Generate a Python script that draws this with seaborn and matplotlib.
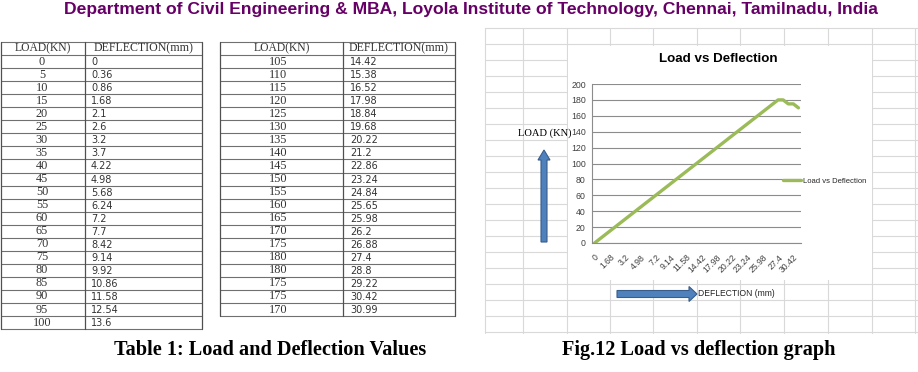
import numpy as np
import pandas as pd
import seaborn as sns
import matplotlib.pyplot as plt
from matplotlib import font_manager
from matplotlib.patches import Rectangle, FancyArrow

# Table values (load in kN, deflection in mm)
load_kn = [0, 5, 10, 15, 20, 25, 30, 35, 40, 45, 50, 55, 60, 65, 70, 75, 80, 85, 90, 95, 100,
           105, 110, 115, 120, 125, 130, 135, 140, 145, 150, 155, 160, 165, 170, 175, 180,
           180, 175, 175, 170]
deflection_mm = [0, 0.36, 0.86, 1.68, 2.1, 2.6, 3.2, 3.7, 4.22, 4.98, 5.68, 6.24, 7.2, 7.7,
                 8.42, 9.14, 9.92, 10.86, 11.58, 12.54, 13.6,
                 14.42, 15.38, 16.52, 17.98, 18.84, 19.68, 20.22, 21.2, 22.86, 23.24, 24.84,
                 25.65, 25.98, 26.2, 26.88, 27.4, 28.8, 29.22, 30.42, 30.99]
header = ["LOAD(KN)", "DEFLECTION(mm)"]
y_ticks = [0, 20, 40, 60, 80, 100, 120, 140, 160, 180, 200]

page_title = ("Department of Civil Engineering & MBA, Loyola Institute of Technology, "
              "Chennai, Tamilnadu, India")
chart_title = "Load vs Deflection"
series_name = "Load vs Deflection"
table_caption = "Table 1: Load and Deflection Values"
fig_caption = "Fig.12 Load vs deflection graph"

df = pd.DataFrame({"pos": np.arange(len(load_kn)), "load": load_kn,
                   "defl": [f"{v:g}" for v in deflection_mm]})

sns.set_style("white")
names = {f.name for f in font_manager.fontManager.ttflist}
narrow = "Liberation Sans Narrow" if "Liberation Sans Narrow" in names else "Liberation Sans"
serif = "Liberation Serif"

W, H = 918, 372
fig = plt.figure(figsize=(W / 100, H / 100), dpi=100)


def box(x0, y0, x1, y1):
    return [x0 / W, 1 - y1 / H, (x1 - x0) / W, (y1 - y0) / H]


def fit(t, width):
    w = t.get_window_extent(fig.canvas.get_renderer()).width
    t.set_fontsize(t.get_fontsize() * width / w)


# background page layer (pixel coordinates)
bg = fig.add_axes([0, 0, 1, 1], zorder=0)
bg.set_xlim(0, W)
bg.set_ylim(H, 0)
bg.axis("off")

# spreadsheet grid behind the chart
for x in [485, 523, 567, 610, 653, 697, 740, 784, 828, 872, 915]:
    bg.plot([x, x], [28, 333], color="#d9d9d9", lw=0.8, zorder=1)
for y in range(28, 334, 16):
    bg.plot([485, 918], [y, y], color="#d9d9d9", lw=0.8, zorder=1)
bg.add_patch(Rectangle((568, 46), 304, 234, facecolor="white", edgecolor="none", zorder=2))

# two tables
rh = 13.05
top = 42
tables = [(1, 85, 202, 42, 91, slice(0, 21)), (220, 343, 455, 278, 350, slice(21, 41))]
for x0, xm, x1, xc_load, x_defl, rows in tables:
    loads = load_kn[rows]
    defls = deflection_mm[rows]
    n = len(loads) + 1
    bottom = top + n * rh
    for i in range(n + 1):
        bg.plot([x0, x1], [top + i * rh] * 2, color="#707070", lw=0.8, zorder=3)
    for x in (x0, xm, x1):
        bg.plot([x, x], [top, bottom], color="#505050", lw=0.9, zorder=3)
    bg.text((x0 + xm) / 2, top + rh / 2, header[0], ha="center", va="center",
            family=serif, fontsize=8.4, color="#333333")
    bg.text((xm + x1) / 2, top + rh / 2, header[1], ha="center", va="center",
            family=serif, fontsize=8.6, color="#333333")
    for i, (ld, dv) in enumerate(zip(loads, defls)):
        yc = top + (i + 1.5) * rh
        bg.text(xc_load, yc, str(ld), ha="center", va="center",
                family=serif, fontsize=8.8, color="#333333")
        bg.text(x_defl, yc + 0.5, f"{dv:g}", ha="left", va="center",
                family="DejaVu Sans", fontsize=7, color="#333333")

# page title (cut at the top edge) and captions
t = bg.text(471, 14, page_title, ha="center", va="baseline", family=[narrow, "DejaVu Sans"],
            fontweight="bold", fontsize=13, color="#660066")
fit(t, 813)
t = bg.text(270, 355, table_caption, ha="center", va="baseline", family=serif,
            fontweight="bold", fontsize=13, color="black")
fit(t, 310)
t = bg.text(699, 355, fig_caption, ha="center", va="baseline", family=serif,
            fontweight="bold", fontsize=13, color="black")
fit(t, 272)

# the chart itself
ax = fig.add_axes(box(592, 84, 801, 243), zorder=1)
ax.set_facecolor("none")
sns.lineplot(data=df, x="pos", y="load", ax=ax, color="#9bbb59", lw=2.4,
             sort=False, label=series_name)
ax.set_xlim(-0.5, len(df) - 0.5)
ax.set_ylim(0, 200)
ax.set_yticks(y_ticks)
ax.set_yticklabels([str(v) for v in y_ticks], family=narrow, fontsize=6.3, color="#404040")
ax.yaxis.grid(True, color="#8c8c8c", lw=0.8)
ax.xaxis.grid(False)
ax.set_xticks(df["pos"][::3])
ax.set_xticklabels(df["defl"][::3], family=narrow, fontsize=6.2, color="#404040")
for lbl in ax.get_xticklabels():
    lbl.set_rotation(45)
    lbl.set_ha("right")
    lbl.set_va("top")
    lbl.set_rotation_mode("anchor")
ax.set_xticks(np.arange(-0.5, len(df), 1), minor=True)
ax.tick_params(axis="x", which="major", length=0, pad=7)
ax.tick_params(axis="x", which="minor", length=3, color="#8c8c8c", direction="out")
ax.tick_params(axis="y", length=3, color="#8c8c8c", direction="out", pad=1.5)
for side in ("top", "right"):
    ax.spines[side].set_visible(False)
for side in ("left", "bottom"):
    ax.spines[side].set_color("#8c8c8c")
    ax.spines[side].set_linewidth(0.8)
ax.set_xlabel("")
ax.set_ylabel("")
leg = ax.legend(loc="center left", bbox_to_anchor=(783 / W, 1 - 181 / H),
                bbox_transform=fig.transFigure, frameon=False,
                prop={"family": narrow, "size": 6.2},
                handlelength=2.1, handletextpad=0.25, borderpad=0, borderaxespad=0)
fit(leg.get_texts()[0], 63)
fig.text(718 / W, 1 - 59 / H, chart_title, ha="center", va="center", family=narrow,
         fontweight="bold", fontsize=11.5 if narrow != "Liberation Sans" else 9.6,
         color="black")

# drawn shapes over the sheet: axis arrows and labels
top_ax = fig.add_axes([0, 0, 1, 1], zorder=2)
top_ax.set_xlim(0, W)
top_ax.set_ylim(H, 0)
top_ax.axis("off")
top_ax.add_patch(FancyArrow(544, 242, 0, -92, width=6, head_width=12, head_length=10,
                            length_includes_head=True, facecolor="#4f81bd",
                            edgecolor="#385d8a", lw=0.8))
top_ax.add_patch(FancyArrow(617, 294, 80, 0, width=7, head_width=15, head_length=8,
                            length_includes_head=True, facecolor="#4f81bd",
                            edgecolor="#385d8a", lw=0.8))
t = top_ax.text(572, 133, "LOAD (KN)", ha="right", va="center", family=serif,
                fontsize=8, color="black")
fit(t, 54)
t = top_ax.text(698, 294, "DEFLECTION (mm)", ha="left", va="center", family=narrow,
                fontsize=7, color="#222222")
fit(t, 76)

fig.savefig("out.png", dpi=100)
